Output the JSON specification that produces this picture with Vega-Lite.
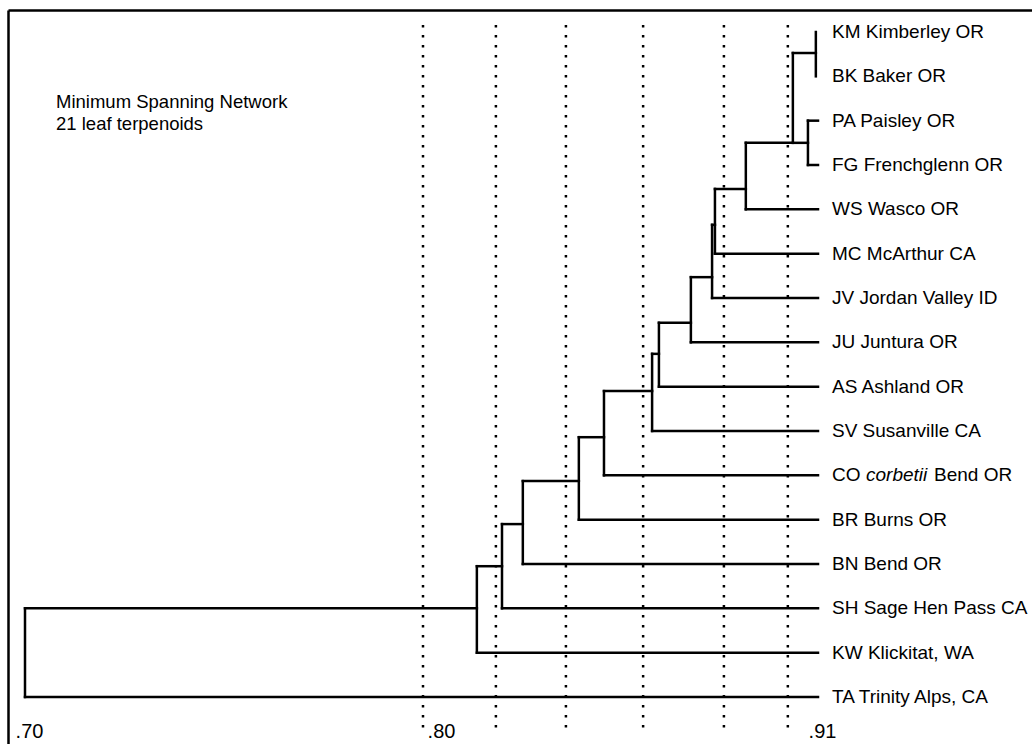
{
  "$schema": "https://vega.github.io/schema/vega-lite/v6.json",
  "width": 1024,
  "height": 734,
  "autosize": {"type": "none"},
  "padding": {"left": 8, "top": 10, "right": 0, "bottom": 0},
  "background": "white",
  "config": {"view": {"stroke": null}, "font": "Liberation Sans"},
  "datasets": {
    "segments": [
      {"x": 0.9094, "x2": 0.9094, "y": 0, "y2": 1},
      {"x": 0.9030, "x2": 0.9094, "y": 0.474, "y2": 0.474},
      {"x": 0.9030, "x2": 0.9030, "y": 0.474, "y2": 2.5},
      {"x": 0.9030, "x2": 0.9072, "y": 2.5, "y2": 2.5},
      {"x": 0.9072, "x2": 0.9072, "y": 2, "y2": 3},
      {"x": 0.9072, "x2": 0.91, "y": 2, "y2": 2},
      {"x": 0.9072, "x2": 0.91, "y": 3, "y2": 3},
      {"x": 0.8899, "x2": 0.9030, "y": 2.5, "y2": 2.5},
      {"x": 0.8899, "x2": 0.8899, "y": 2.5, "y2": 4},
      {"x": 0.8899, "x2": 0.91, "y": 4, "y2": 4},
      {"x": 0.8813, "x2": 0.8899, "y": 3.54, "y2": 3.54},
      {"x": 0.8813, "x2": 0.8813, "y": 3.54, "y2": 5},
      {"x": 0.8813, "x2": 0.91, "y": 5, "y2": 5},
      {"x": 0.8805, "x2": 0.8813, "y": 4.35, "y2": 4.35},
      {"x": 0.8805, "x2": 0.8805, "y": 4.35, "y2": 6},
      {"x": 0.8805, "x2": 0.91, "y": 6, "y2": 6},
      {"x": 0.8746, "x2": 0.8805, "y": 5.53, "y2": 5.53},
      {"x": 0.8746, "x2": 0.8746, "y": 5.53, "y2": 7},
      {"x": 0.8746, "x2": 0.91, "y": 7, "y2": 7},
      {"x": 0.8657, "x2": 0.8746, "y": 6.56, "y2": 6.56},
      {"x": 0.8657, "x2": 0.8657, "y": 6.56, "y2": 8},
      {"x": 0.8657, "x2": 0.91, "y": 8, "y2": 8},
      {"x": 0.8638, "x2": 0.8657, "y": 7.26, "y2": 7.26},
      {"x": 0.8638, "x2": 0.8638, "y": 7.26, "y2": 9},
      {"x": 0.8638, "x2": 0.91, "y": 9, "y2": 9},
      {"x": 0.8504, "x2": 0.8638, "y": 8.10, "y2": 8.10},
      {"x": 0.8504, "x2": 0.8504, "y": 8.10, "y2": 10},
      {"x": 0.8504, "x2": 0.91, "y": 10, "y2": 10},
      {"x": 0.8434, "x2": 0.8504, "y": 9.14, "y2": 9.14},
      {"x": 0.8434, "x2": 0.8434, "y": 9.14, "y2": 11},
      {"x": 0.8434, "x2": 0.91, "y": 11, "y2": 11},
      {"x": 0.8278, "x2": 0.8434, "y": 10.13, "y2": 10.13},
      {"x": 0.8278, "x2": 0.8278, "y": 10.13, "y2": 12},
      {"x": 0.8278, "x2": 0.91, "y": 12, "y2": 12},
      {"x": 0.8220, "x2": 0.8278, "y": 11.10, "y2": 11.10},
      {"x": 0.8220, "x2": 0.8220, "y": 11.10, "y2": 13},
      {"x": 0.8220, "x2": 0.91, "y": 13, "y2": 13},
      {"x": 0.8150, "x2": 0.8220, "y": 12.05, "y2": 12.05},
      {"x": 0.8150, "x2": 0.8150, "y": 12.05, "y2": 14},
      {"x": 0.8150, "x2": 0.91, "y": 14, "y2": 14},
      {"x": 0.70, "x2": 0.8150, "y": 13, "y2": 13},
      {"x": 0.70, "x2": 0.70, "y": 13, "y2": 15},
      {"x": 0.70, "x2": 0.91, "y": 15, "y2": 15}
    ],
    "leaves": [
      {"label": "KM Kimberley OR", "row": 0},
      {"label": "BK Baker OR", "row": 1},
      {"label": "PA Paisley OR", "row": 2},
      {"label": "FG Frenchglenn OR", "row": 3},
      {"label": "WS Wasco OR", "row": 4},
      {"label": "MC McArthur CA", "row": 5},
      {"label": "JV Jordan Valley ID", "row": 6},
      {"label": "JU Juntura OR", "row": 7},
      {"label": "AS Ashland OR", "row": 8},
      {"label": "SV Susanville CA", "row": 9},
      {"label": "CO", "italic": "corbetii", "rest": "Bend OR", "row": 10},
      {"label": "BR Burns OR", "row": 11},
      {"label": "BN Bend OR", "row": 12},
      {"label": "SH Sage Hen Pass CA", "row": 13},
      {"label": "KW Klickitat, WA", "row": 14},
      {"label": "TA Trinity Alps, CA", "row": 15}
    ],
    "guides": [
      {"sim": 0.80},
      {"sim": 0.8203},
      {"sim": 0.8398},
      {"sim": 0.8613},
      {"sim": 0.8838},
      {"sim": 0.9016}
    ],
    "note": [{"text": "Minimum Spanning Network\n21 leaf terpenoids"}]
  },
  "layer": [
    {
      "data": {"name": "guides"},
      "mark": {"type": "rule", "color": "black", "strokeWidth": 2.5, "strokeDash": [2.5, 7.5], "strokeCap": "butt"},
      "encoding": {
        "x": {
          "field": "sim", "type": "quantitative",
          "scale": {"type": "linear", "domain": [0.69573, 0.70, 0.80, 0.91, 0.96959], "range": [0, 17, 415, 810, 1024], "nice": false, "zero": false},
          "axis": {
            "orient": "bottom", "offset": -12, "domain": false, "ticks": false, "grid": false, "title": null,
            "values": [0.70, 0.80, 0.91],
            "labelExpr": "substring(format(datum.value, '.2f'), 1)",
            "labelFont": "Liberation Sans", "labelFontSize": 20, "labelColor": "black",
            "labelPadding": 5, "labelBaseline": "alphabetic", "labelAlign": "center",
            "labelOffset": {"condition": {"test": "datum.value == 0.8", "value": 18}, "value": 4},
            "labelFlush": false, "labelOverlap": false
          }
        },
        "y": {
          "datum": -0.16, "type": "quantitative",
          "scale": {"domain": [-0.4962, 16.0602], "reverse": true, "nice": false, "zero": false},
          "axis": {"orient": "left", "domain": true, "domainColor": "black", "domainWidth": 2.5, "ticks": false, "labels": false, "grid": false, "title": null}
        },
        "y2": {"datum": 15.86}
      }
    },
    {
      "data": {"name": "segments"},
      "mark": {"type": "rule", "color": "black", "strokeWidth": 2.5, "strokeCap": "square"},
      "encoding": {
        "x": {"field": "x", "type": "quantitative",
          "axis": {"orient": "top", "domain": true, "domainColor": "black", "domainWidth": 2.5, "ticks": false, "labels": false, "grid": false, "title": null}},
        "x2": {"field": "x2"},
        "y": {"field": "y", "type": "quantitative"},
        "y2": {"field": "y2"}
      }
    },
    {
      "data": {"name": "leaves"},
      "mark": {"type": "text", "align": "left", "baseline": "middle", "dx": 14, "fontSize": 19, "font": "Liberation Sans", "color": "black"},
      "encoding": {
        "x": {"datum": 0.91, "type": "quantitative", "axis": null},
        "y": {"field": "row", "type": "quantitative"},
        "text": {"field": "label"}
      }
    },
    {
      "data": {"name": "leaves"},
      "transform": [{"filter": "datum.italic != null"}],
      "mark": {"type": "text", "align": "left", "baseline": "middle", "dx": 48, "fontSize": 19, "fontStyle": "italic", "font": "Liberation Sans", "color": "black"},
      "encoding": {
        "x": {"datum": 0.91, "type": "quantitative", "axis": null},
        "y": {"field": "row", "type": "quantitative"},
        "text": {"field": "italic"}
      }
    },
    {
      "data": {"name": "leaves"},
      "transform": [{"filter": "datum.rest != null"}],
      "mark": {"type": "text", "align": "left", "baseline": "middle", "dx": 116, "fontSize": 19, "font": "Liberation Sans", "color": "black"},
      "encoding": {
        "x": {"datum": 0.91, "type": "quantitative", "axis": null},
        "y": {"field": "row", "type": "quantitative"},
        "text": {"field": "rest"}
      }
    },
    {
      "data": {"name": "note"},
      "mark": {"type": "text", "align": "left", "baseline": "alphabetic", "fontSize": 18.5, "lineHeight": 22, "lineBreak": "\n", "font": "Liberation Sans", "color": "black"},
      "encoding": {
        "x": {"datum": 0.7078, "type": "quantitative", "axis": null},
        "y": {"datum": 1.714, "type": "quantitative"},
        "text": {"field": "text"}
      }
    }
  ],
  "resolve": {"axis": {"x": "independent"}}
}
